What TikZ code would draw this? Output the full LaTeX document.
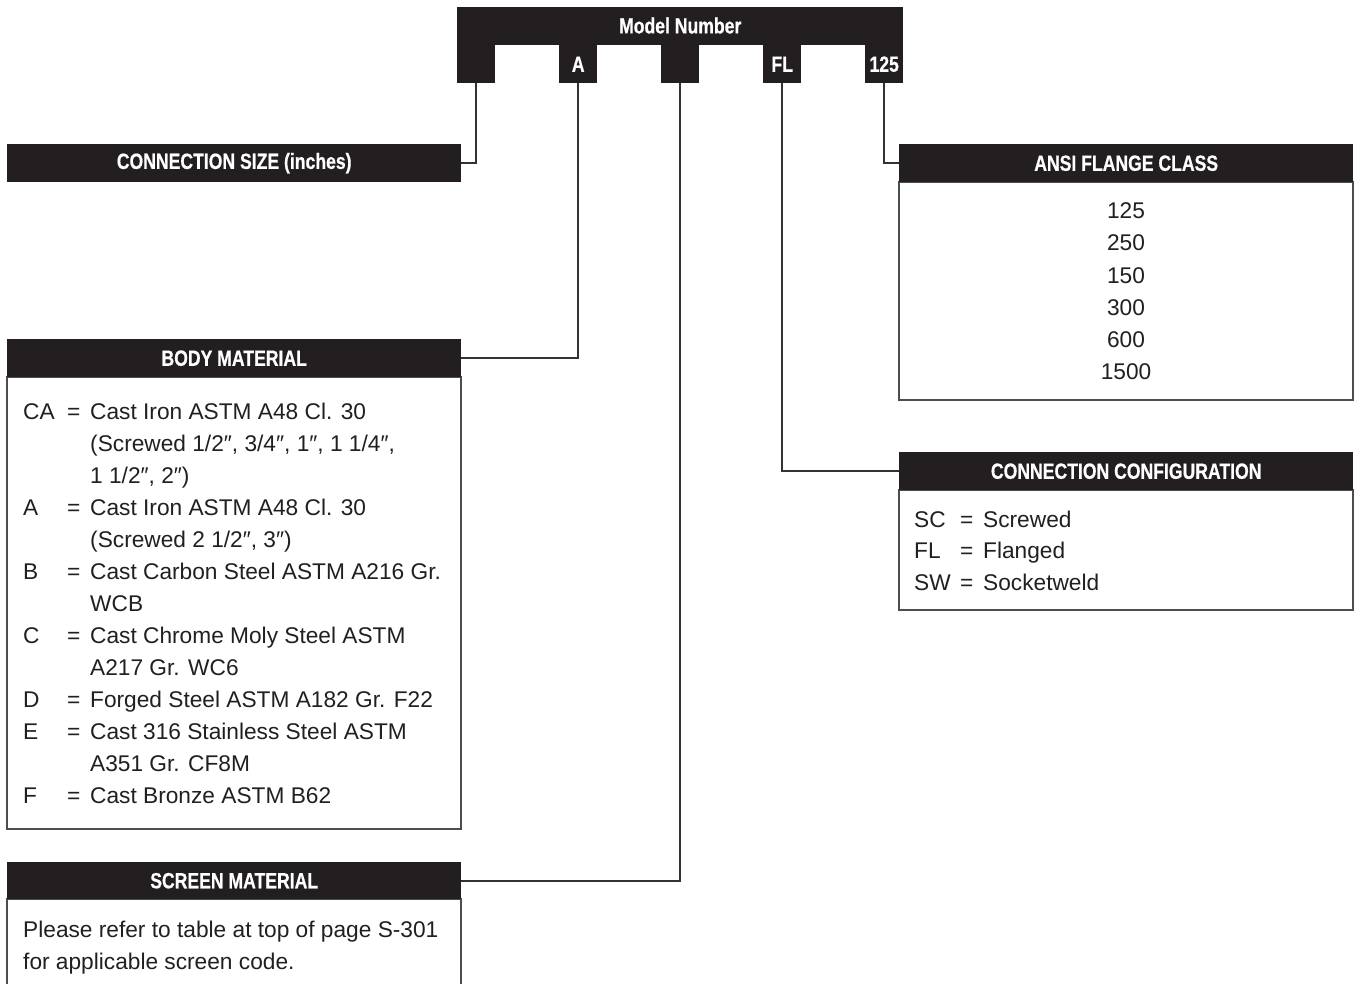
\documentclass[tikz,border=0pt]{standalone}
\usepackage{fontspec}
\setmainfont{Liberation Sans}
\newfontfamily\hdfont{Liberation Sans}[FakeStretch=0.8, FakeBold=0.6]
\definecolor{hdrc}{HTML}{231F20}
\definecolor{boxc}{HTML}{4D4D4D}
\definecolor{linec}{HTML}{333333}
\definecolor{txtc}{HTML}{231F20}
\newcommand{\dq}{\symbol{"2033}}
\tikzset{
  hdr/.style={fill=hdrc, text=white, font=\hdfont\bfseries\fontsize{22}{26}\selectfont,
    inner sep=0pt, anchor=north west, minimum height=38pt},
  bodybox/.style={draw=boxc, line width=1.3pt, fill=white},
  conn/.style={draw=linec, line width=2pt},
  txt/.style={anchor=base west, inner sep=0pt, text=txtc, font=\fontsize{22.7}{27}\selectfont},
  ctxt/.style={anchor=base, inner sep=0pt, text=txtc, font=\fontsize{22.7}{27}\selectfont}
}
\begin{document}
\begin{tikzpicture}[x=1pt,y=-1pt]
\useasboundingbox (0,0) rectangle (1356,984);

% Model number bar
\node[hdr, minimum width=446pt] (model) at (457,7) {\raisebox{1.5pt}{Model Number}};
\node[hdr, minimum width=38pt] (m1) at (457,45) {};
\node[hdr, minimum width=38pt] (m2) at (559,45) {A};
\node[hdr, minimum width=38pt] (m3) at (661,45) {};
\node[hdr, minimum width=38pt] (m4) at (763,45) {FL};
\node[hdr, minimum width=38pt] (m5) at (865,45) {125};

% Connection size
\node[hdr, minimum width=454pt] (csize) at (7,144) {CONNECTION SIZE (inches)};

% Body material
\draw[bodybox] (7,377) rectangle (461,829);
\node[hdr, minimum width=454pt] (body) at (7,339) {BODY MATERIAL};
\foreach \y/\c/\e/\t [count=\i] in {
  411/CA/=/Cast Iron ASTM A48 Cl. 30,
  443/{}/{}/{(Screwed 1/2\dq, 3/4\dq, 1\dq, 1 1/4\dq,},
  475/{}/{}/{1 1/2\dq, 2\dq)},
  507/A/=/Cast Iron ASTM A48 Cl. 30,
  539/{}/{}/{(Screwed 2 1/2\dq, 3\dq)},
  571/B/=/Cast Carbon Steel ASTM A216 Gr.,
  603/{}/{}/WCB,
  635/C/=/Cast Chrome Moly Steel ASTM,
  667/{}/{}/A217 Gr. WC6,
  699/D/=/Forged Steel ASTM A182 Gr. F22,
  731/E/=/Cast 316 Stainless Steel ASTM,
  763/{}/{}/A351 Gr. CF8M,
  795/F/=/Cast Bronze ASTM B62}
  \node[txt] (bm\i) at (23,\y+8) {\makebox[44pt][l]{\c}\makebox[23pt][l]{\e}\t};

% Screen material
\draw[bodybox] (7,899) rectangle (461,1000);
\node[hdr, minimum width=454pt, minimum height=37pt] (screen) at (7,862) {SCREEN MATERIAL};
\node[txt] (sm1) at (23,937) {Please refer to table at top of page S-301};
\node[txt] (sm2) at (23,969) {for applicable screen code.};

% ANSI flange class
\draw[bodybox] (899,182) rectangle (1353,400);
\node[hdr, minimum width=454pt] (ansi) at (899,144) {ANSI FLANGE CLASS};
\foreach \y/\t [count=\i] in {211/125,243/250,275/150,307/300,339/600,371/1500}
  \node[ctxt] (af\i) at (1126,\y+8) {\t};

% Connection configuration
\draw[bodybox] (899,490) rectangle (1353,610);
\node[hdr, minimum width=454pt] (config) at (899,452) {CONNECTION CONFIGURATION};
\foreach \y/\c/\t [count=\i] in {519/SC/Screwed,550/FL/Flanged,582/SW/Socketweld}
  \node[txt] (cc\i) at (914,\y+8) {\makebox[46pt][l]{\c}\makebox[23pt][l]{=}\t};

% Connectors
\draw[conn] (m1.south) |- (csize.east);
\draw[conn] (m2.south) |- (body.east);
\draw[conn] (m3.south) |- (screen.east);
\draw[conn] (m4.south) |- (config.west);
\draw[conn] (m5.south) |- (ansi.west);
\end{tikzpicture}
\end{document}
